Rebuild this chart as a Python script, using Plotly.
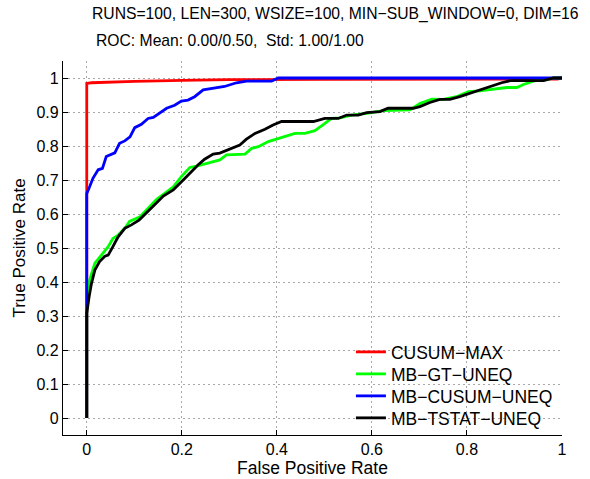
import plotly.graph_objects as go

# ---- data ----
cusum_max_fpr = [0, 0, 0.01, 0.05, 0.1, 0.2, 0.3, 0.5, 0.7, 0.9, 0.99, 1.0]
cusum_max_tpr = [0, 0.984, 0.986, 0.988, 0.990, 0.993, 0.995, 0.996, 0.996, 0.997, 0.997, 1.0]

mb_gt_fpr = [0, 0, 0.006, 0.017, 0.024, 0.034, 0.045, 0.055, 0.066, 0.08, 0.09, 0.112, 0.126,
             0.147, 0.164, 0.182, 0.199, 0.217, 0.231, 0.252, 0.28, 0.294, 0.333, 0.347, 0.361,
             0.382, 0.399, 0.413, 0.438, 0.459, 0.48, 0.497, 0.515, 0.533, 0.557, 0.589, 0.624,
             0.68, 0.701, 0.726, 0.75, 0.778, 0.803, 0.827, 0.855, 0.884, 0.905, 0.919, 0.943,
             0.961, 0.982, 1.0]
mb_gt_tpr = [0, 0.33, 0.406, 0.455, 0.467, 0.484, 0.504, 0.528, 0.538, 0.558, 0.578, 0.592, 0.612,
             0.643, 0.661, 0.68, 0.71, 0.737, 0.741, 0.749, 0.759, 0.774, 0.776, 0.793, 0.798,
             0.813, 0.82, 0.826, 0.837, 0.837, 0.845, 0.862, 0.881, 0.883, 0.891, 0.896, 0.904,
             0.906, 0.925, 0.938, 0.937, 0.945, 0.96, 0.962, 0.968, 0.972, 0.972, 0.981, 0.992,
             0.993, 1.0, 1.0]

mb_cusum_fpr = [0, 0, 0.006, 0.013, 0.024, 0.033, 0.041, 0.059, 0.069, 0.08, 0.091, 0.101, 0.115,
                0.129, 0.14, 0.168, 0.185, 0.199, 0.213, 0.227, 0.245, 0.266, 0.29, 0.315, 0.336,
                0.389, 0.403, 1.0]
mb_cusum_tpr = [0, 0.66, 0.68, 0.705, 0.73, 0.734, 0.769, 0.78, 0.808, 0.815, 0.827, 0.854, 0.864,
                0.881, 0.884, 0.911, 0.92, 0.932, 0.935, 0.945, 0.965, 0.97, 0.975, 0.986, 0.991,
                0.991, 1.0, 1.0]

mb_tstat_fpr = [0, 0, 0.005, 0.01, 0.017, 0.027, 0.038, 0.045, 0.055, 0.066, 0.08, 0.094, 0.11,
                0.129, 0.147, 0.161, 0.182, 0.203, 0.217, 0.234, 0.248, 0.266, 0.28, 0.301, 0.322,
                0.336, 0.354, 0.375, 0.392, 0.41, 0.477, 0.501, 0.529, 0.547, 0.571, 0.589, 0.617,
                0.634, 0.687, 0.701, 0.722, 0.743, 0.764, 0.785, 0.806, 0.831, 0.855, 0.873, 0.891,
                0.961, 0.982, 1.0]
mb_tstat_tpr = [0, 0.308, 0.357, 0.396, 0.435, 0.46, 0.476, 0.479, 0.504, 0.533, 0.558, 0.568, 0.582,
                0.607, 0.633, 0.653, 0.671, 0.7, 0.72, 0.744, 0.761, 0.776, 0.779, 0.79, 0.803,
                0.82, 0.837, 0.849, 0.862, 0.872, 0.872, 0.881, 0.881, 0.891, 0.891, 0.898, 0.901,
                0.911, 0.911, 0.916, 0.928, 0.937, 0.937, 0.945, 0.955, 0.968, 0.979, 0.986, 0.992,
                0.992, 1.0, 1.0]

series_names = ["CUSUM\u2212MAX", "MB\u2212GT\u2212UNEQ", "MB\u2212CUSUM\u2212UNEQ", "MB\u2212TSTAT\u2212UNEQ"]
series_colors = ["#ff0000", "#00ff00", "#0000ff", "#000000"]

x_ticks = [0, 0.2, 0.4, 0.6, 0.8, 1]
x_tick_labels = ["0", "0.2", "0.4", "0.6", "0.8", "1"]
y_ticks = [0, 0.1, 0.2, 0.3, 0.4, 0.5, 0.6, 0.7, 0.8, 0.9, 1]
y_tick_labels = ["0", "0.1", "0.2", "0.3", "0.4", "0.5", "0.6", "0.7", "0.8", "0.9", "1"]

title_line1 = "RUNS=100, LEN=300, WSIZE=100, MIN\u2212SUB_WINDOW=0, DIM=16"
title_line2 = "ROC: Mean: 0.00/0.50,  Std: 1.00/1.00"

FONT = "Liberation Sans, Arial, Helvetica, sans-serif"

legend_ids = ["legend", "legend2", "legend3", "legend4"]
legend_rows_y = [0.2219, 0.1631, 0.1043, 0.0455]

fig = go.Figure()
all_x = [cusum_max_fpr, mb_gt_fpr, mb_cusum_fpr, mb_tstat_fpr]
all_y = [cusum_max_tpr, mb_gt_tpr, mb_cusum_tpr, mb_tstat_tpr]
for xs, ys, name, col, lid in zip(all_x, all_y, series_names, series_colors, legend_ids):
    fig.add_trace(go.Scatter(x=xs, y=ys, mode="lines", name=name, legend=lid,
                             line=dict(color=col, width=2.8)))

axis_common = dict(
    showline=True, linecolor="black", linewidth=1.2, mirror=False,
    ticks="inside", ticklen=5, tickcolor="black", tickwidth=1,
    showgrid=True, gridcolor="#a8a8a8", griddash="2px,3px", gridwidth=1,
    zeroline=False, tickfont=dict(family=FONT, size=16, color="black"),
    automargin=False,
)

fig.update_xaxes(range=[-0.05, 1.0], tickvals=x_ticks, ticktext=x_tick_labels,
                 title=dict(text="False Positive Rate", font=dict(family=FONT, size=17.5, color="black"),
                            standoff=0),
                 **axis_common)
fig.update_yaxes(range=[-0.05, 1.05], tickvals=y_ticks, ticktext=y_tick_labels,
                 title=dict(text="True Positive Rate", font=dict(family=FONT, size=17, color="black"),
                            standoff=6),
                 **axis_common)

fig.add_annotation(text=title_line1, xref="paper", yref="paper", x=0.054, y=1.1257,
                   xanchor="left", yanchor="middle", showarrow=False,
                   font=dict(family=FONT, size=15.7, color="black"))
fig.add_annotation(text=title_line2, xref="paper", yref="paper", x=0.062, y=1.056,
                   xanchor="left", yanchor="middle", showarrow=False,
                   font=dict(family=FONT, size=15.7, color="black"))

# white backdrop of the legend box (covers the grid there, as in the reference)
fig.add_shape(type="rect", xref="paper", yref="paper", x0=0.571, x1=0.998, y0=0.018, y1=0.252,
              fillcolor="white", line=dict(width=0), layer="between")

layout_legends = {}
for lid, ly in zip(legend_ids, legend_rows_y):
    layout_legends[lid] = dict(x=0.577, y=ly, xanchor="left", yanchor="middle",
                               bgcolor="rgba(0,0,0,0)", borderwidth=0,
                               font=dict(family=FONT, size=17.5, color="black"))

fig.update_layout(
    width=590, height=479,
    margin=dict(l=63, r=28, t=61, b=44, autoexpand=False),
    paper_bgcolor="white", plot_bgcolor="white",
    font=dict(family=FONT, size=15, color="black"),
    showlegend=True,
    **layout_legends,
)

fig.write_html("out.html", config={"displayModeBar": False},
               post_script="document.body.style.margin='0';")
